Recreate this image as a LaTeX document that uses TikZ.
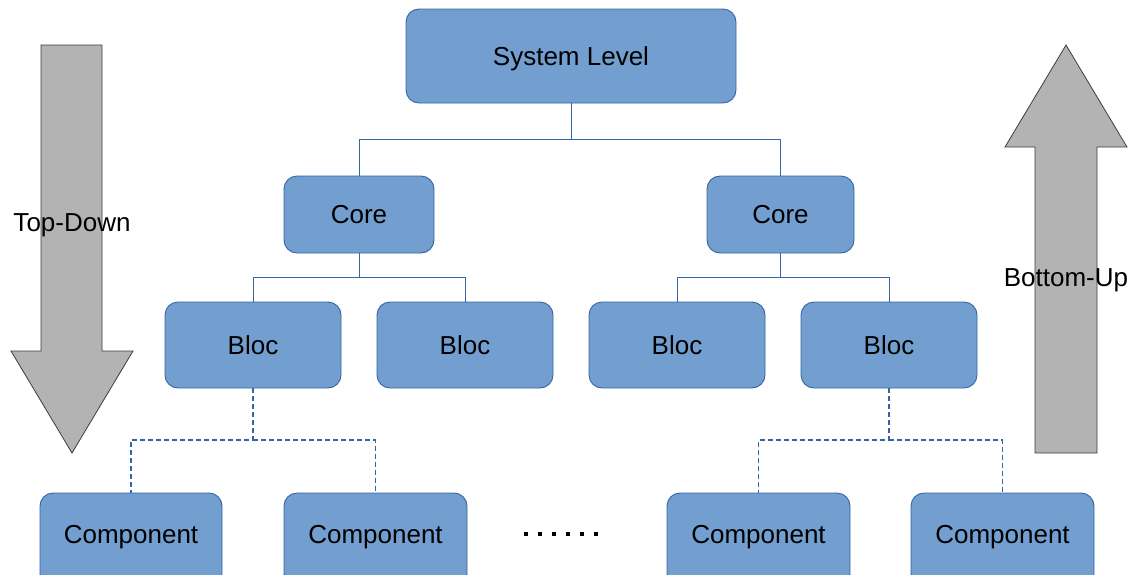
\documentclass[tikz,border=0pt]{standalone}
\usepackage{fontspec}
\setmainfont{Liberation Sans}
\definecolor{boxfill}{HTML}{729FCF}
\definecolor{boxline}{HTML}{3465A4}
\definecolor{arrowfill}{HTML}{B3B3B3}
\definecolor{arrowline}{HTML}{3C3C3C}
\tikzset{
  txt/.style={font=\fontsize{26}{30}\selectfont, inner sep=0pt, text height=18.6pt, text depth=0pt},
  blk/.style={draw=boxline, line width=0.9pt, fill=boxfill, rounded corners=13pt, txt},
  link/.style={draw=boxline, line width=0.9pt},
  dlink/.style={draw=boxline, line width=1.1pt, dash pattern=on 5pt off 3pt},
  bigarrow/.style={draw=arrowline, line width=0.8pt, fill=arrowfill, line join=miter}
}
\begin{document}
\begin{tikzpicture}[x=1pt, y=-1pt]
\useasboundingbox (0,0) rectangle (1133,574);
\clip (0,0) rectangle (1133,574);

% direction arrows
\draw[bigarrow] (41,45) -- (102,45) -- (102,351) -- (133,351) -- (72,453)
  -- (11,351) -- (41,351) -- cycle;
\draw[bigarrow] (1035,453) -- (1097,453) -- (1097,147) -- (1127,147) -- (1066,45)
  -- (1005,147) -- (1035,147) -- cycle;
\node[txt] (td) at (72,222.5) {Top-Down};
\node[txt] (bu) at (1066,277) {Bottom-Up};

% hierarchy boxes
\node[blk, minimum width=330pt, minimum height=94pt] (sys) at (571,56) {System Level};
\node[blk, minimum width=150pt, minimum height=77pt] (corel) at (359,214.5) {Core};
\node[blk, minimum width=147pt, minimum height=77pt] (corer) at (780.5,214.5) {Core};
\node[blk, minimum width=176pt, minimum height=86pt] (b1) at (253,345) {Bloc};
\node[blk, minimum width=176pt, minimum height=86pt] (b2) at (465,345) {Bloc};
\node[blk, minimum width=176pt, minimum height=86pt] (b3) at (677,345) {Bloc};
\node[blk, minimum width=176pt, minimum height=86pt] (b4) at (889,345) {Bloc};
\node[blk, minimum width=182pt, minimum height=94pt] (c1) at (131,540) {};
\node[blk, minimum width=183pt, minimum height=94pt] (c2) at (375.5,540) {};
\node[blk, minimum width=183pt, minimum height=94pt] (c3) at (758.5,540) {};
\node[blk, minimum width=183pt, minimum height=94pt] (c4) at (1002.5,540) {};
\foreach \c/\x in {c1/131, c2/375.5, c3/758.5, c4/1002.5}
  \node[txt] at (\x,534) {Component};

% ellipsis between component groups
\foreach \i in {0,...,5}
  \fill (524+14*\i,532) rectangle ++(4,4);

% solid connectors
\coordinate (j0) at (571,139);
\coordinate (j1) at (359,277);
\coordinate (j2) at (780.5,277);
\draw[link] (sys.south) -- (j0) -| (corel.north);
\draw[link] (j0) -| (corer.north);
\draw[link] (corel.south) -- (j1) -| (b1.north);
\draw[link] (j1) -| (b2.north);
\draw[link] (corer.south) -- (j2) -| (b3.north);
\draw[link] (j2) -| (b4.north);

% dashed connectors
\coordinate (j3) at (253,440);
\coordinate (j4) at (889,440);
\draw[dlink] (b1.south) -- (j3) -| (c1.north);
\draw[dlink] (j3) -| (c2.north);
\draw[dlink] (b4.south) -- (j4) -| (c3.north);
\draw[dlink] (j4) -| (c4.north);
\end{tikzpicture}
\end{document}
